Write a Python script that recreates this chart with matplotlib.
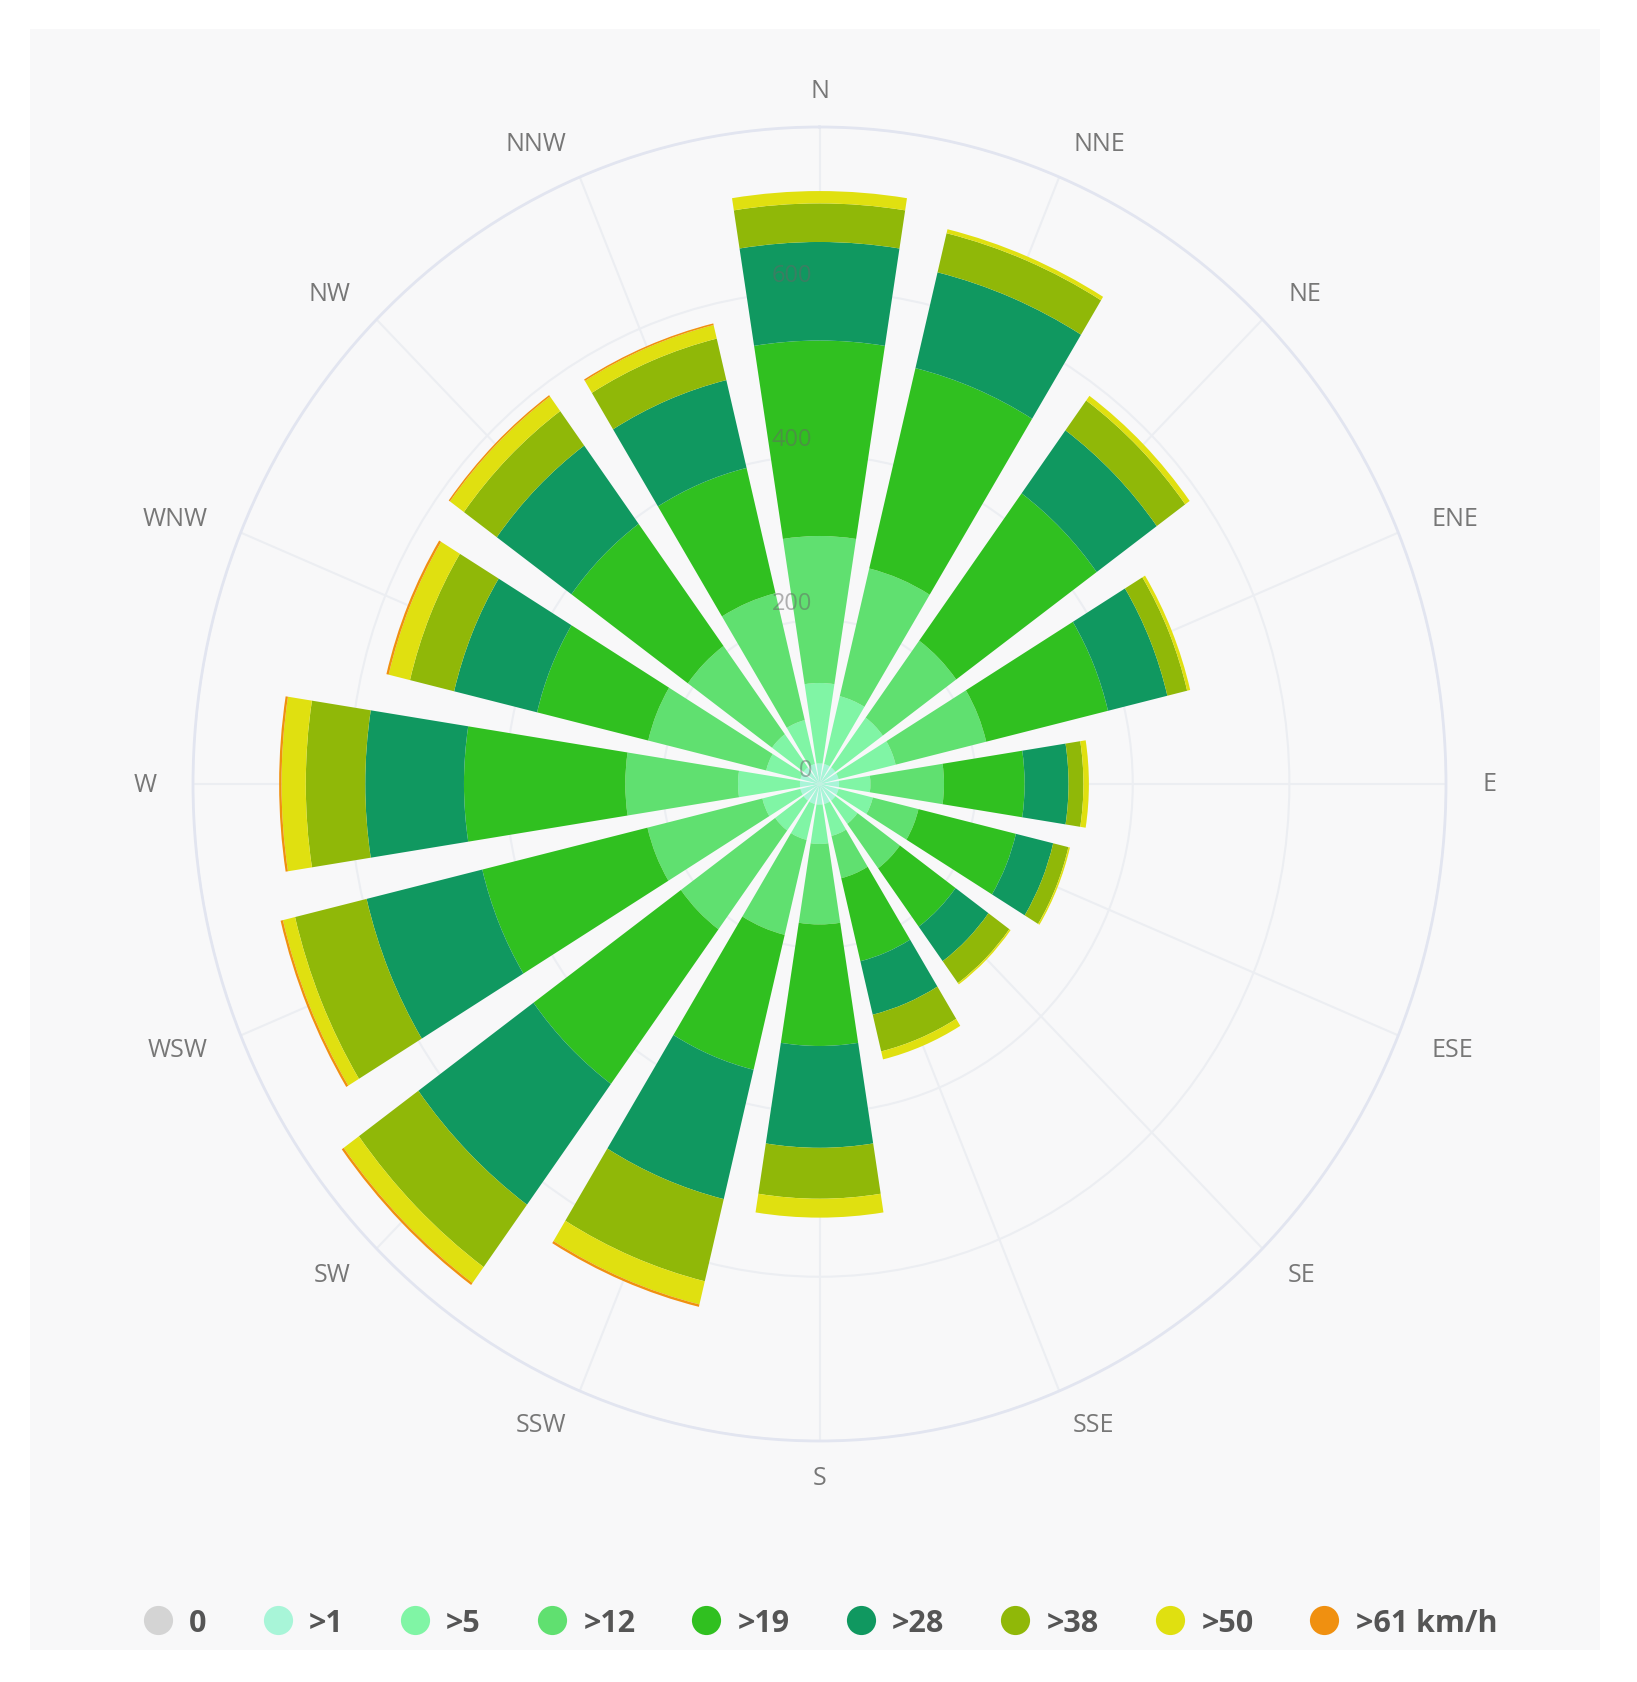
import numpy as np
import matplotlib
matplotlib.use('Agg')
import matplotlib.pyplot as plt
from matplotlib.lines import Line2D
from matplotlib.patches import Rectangle

plt.rcParams['font.family'] = ['Open Sans', 'DejaVu Sans']

# ─────────────────────────────────────────
# DATA (clockwise from N)
# ─────────────────────────────────────────
directions = ['N', 'NNE', 'NE', 'ENE', 'E', 'ESE', 'SE', 'SSE',
              'S', 'SSW', 'SW', 'WSW', 'W', 'WNW', 'NW', 'NNW']

speed_1 = [25, 25, 25, 25, 25, 25, 25, 25, 25, 25, 25, 25, 25, 25, 25, 25]
speed_5 = [98, 85, 75, 75, 40, 45, 35, 40, 48, 45, 45, 50, 79, 45, 50, 55]
speed_12 = [179, 160, 116, 119, 94, 60, 67, 53, 98, 119, 149, 151, 144, 155, 133, 159]
speed_19 = [238, 251, 222, 160, 103, 128, 88, 104, 148, 169, 233, 217, 206, 146, 184, 157]
speed_28 = [120, 120, 95, 78, 56, 49, 52, 67, 124, 162, 182, 152, 126, 109, 118, 110]
speed_38 = [47, 49, 45, 26, 19, 20, 33, 46, 62, 103, 94, 94, 76, 58, 52, 52]
speed_50 = [15, 5, 7, 4, 7, 2, 2, 10, 23, 29, 24, 16, 31, 28, 22, 17]
speed_61 = [0, 0, 0, 0, 0, 0, 0, 0, 0, 3, 3, 3, 3, 3, 2, 2]

series = [speed_1, speed_5, speed_12, speed_19, speed_28, speed_38, speed_50, speed_61]
colors = ['#a8f5d8', '#80f5a5', '#60e070', '#30c020', '#109860', '#90b808', '#e0e010', '#f09010']

legend_labels = ['0', '>1', '>5', '>12', '>19', '>28', '>38', '>50', '>61 km/h']
legend_colors = ['#d4d4d4'] + colors

radial_ticks = [0, 200, 400, 600]

# ─────────────────────────────────────────
# FIGURE + GREY PANEL
# ─────────────────────────────────────────
W, H = 1637, 1683
fig = plt.figure(figsize=(W / 100, H / 100), dpi=100, facecolor='white')
fig.add_artist(Rectangle((30 / W, 1 - 1651 / H), 1570 / W, 1621 / H,
                         transform=fig.transFigure, facecolor='#f8f8f9', edgecolor='none', zorder=-5))

# centre (819.5, 785), the source picture is a bit stretched so the circle is an ellipse
ax = fig.add_axes([(819.5 - 626.5) / W, (H - 785 - 657) / H, 1253 / W, 1314 / H], projection='polar')
ax.set_aspect('auto')
ax.patch.set_alpha(0)
ax.set_theta_zero_location('N')
ax.set_theta_direction(-1)

# ─────────────────────────────────────────
# STACKED BARS
# ─────────────────────────────────────────
theta = np.deg2rad(np.arange(len(directions)) * 22.5)
bottom = np.zeros(len(directions))
for vals, col in zip(series, colors):
    ax.bar(theta, vals, width=np.deg2rad(17.8), bottom=bottom, color=col, linewidth=0, zorder=2)
    bottom += np.array(vals)

# ─────────────────────────────────────────
# AXES STYLE
# ─────────────────────────────────────────
ax.set_ylim(0, 800)
ax.set_yticks([200, 400, 600, 800])
ax.set_yticklabels([])
ax.set_xticks(theta)
ax.set_xticklabels(directions, fontsize=18, color='#777777')
ax.tick_params(axis='x', pad=19, length=0)
ax.grid(True, color='#eceef2', linewidth=1.5)
ax.set_axisbelow(True)
ax.spines['polar'].set_color('#e2e5f0')
ax.spines['polar'].set_linewidth(2)

# right side labels start at the ring, left side labels end at it
for i, lab in enumerate(ax.get_xticklabels()):
    if i in (0, 8):
        lab.set_ha('center')
    elif i < 8:
        lab.set_ha('left')
    else:
        lab.set_ha('right')

# radial labels sit on top of the bars, faint
for val in radial_ticks:
    ax.annotate(str(val), xy=(0, val), xytext=(-20 if val else -10, 12 if val else 10),
                textcoords='offset points', ha='center', va='center',
                fontsize=17, color='#666666', alpha=0.5, zorder=5)

# ─────────────────────────────────────────
# LEGEND
# ─────────────────────────────────────────
handles = [Line2D([], [], marker='o', linestyle='none', markersize=21, color=c, markeredgewidth=0)
           for c in legend_colors]
fig.legend(handles, legend_labels, loc='center', bbox_to_anchor=(820 / W, 1 - 1624 / H),
           ncol=9, frameon=False, handletextpad=0.53, columnspacing=1.82, handlelength=1.0,
           prop={'size': 22, 'weight': 'bold'}, labelcolor='#555555')

fig.savefig('out.png', dpi=100, facecolor='white')
